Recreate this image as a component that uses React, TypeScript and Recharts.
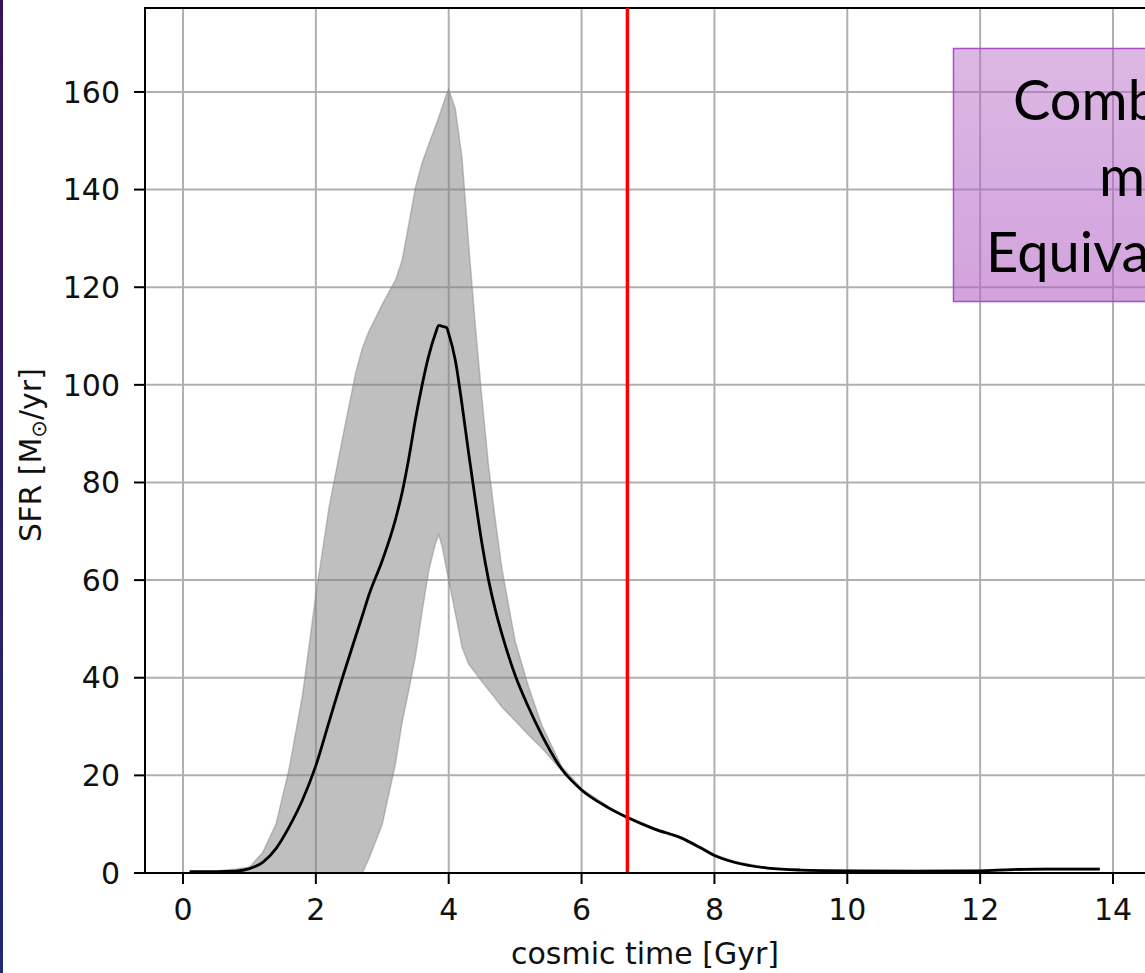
import React from 'react';
import {
  ComposedChart,
  Area,
  Line,
  XAxis,
  YAxis,
  CartesianGrid,
  ReferenceLine,
  ReferenceArea,
} from 'recharts';

// Cosmic time grid [Gyr]
const TIME = [
  0.1, 0.5, 0.8, 1.0, 1.2, 1.4, 1.6, 1.8, 2.0, 2.2, 2.4, 2.6, 2.7, 2.8, 3.0, 3.2, 3.3, 3.4, 3.5,
  3.6, 3.7, 3.8, 3.85, 3.9, 3.97, 4.0, 4.1, 4.2, 4.3, 4.4, 4.5, 4.6, 4.7, 4.8, 5.0, 5.2, 5.4, 5.7, 6.0,
  6.4, 6.7, 7.1, 7.5, 7.8, 8.0, 8.3, 8.8, 9.3, 10, 11, 12, 12.5, 13, 13.8,
];

// Median star formation rate [Msun/yr]
const SFR_MEDIAN = [
  0.3, 0.3, 0.4, 0.9, 2.2, 5.0, 9.5, 15, 22, 31, 40, 48.5, 52.7, 57, 64, 72.5, 78, 85, 93,
  100, 106, 110.5, 112.2, 112, 111.7, 110.5, 105, 96, 86, 76.5, 67.5, 60, 54, 49, 40.5, 34, 28.3, 21.3, 17,
  13.4, 11.3, 9.0, 7.2, 5.1, 3.6, 2.2, 1.0, 0.6, 0.45, 0.4, 0.45, 0.7, 0.8, 0.8,
];

// Lower edge of the spread
const SFR_LOW = [
  0.2, 0.2, 0.2, 0, 0, 0, 0, 0, 0, 0, 0, 0, 0, 3, 10, 22.5, 31, 37.5, 44.5,
  53.6, 62, 67.5, 69.3, 67, 62, 60, 53.2, 46.3, 42.8, 41, 39.2, 37.5, 35.8, 34, 31.2, 28.3, 25.6, 21, 16.8,
  13.2, 11.1, 8.8, 7.0, 4.9, 3.4, 2.0, 0.9, 0.5, 0.35, 0.3, 0.35, 0.6, 0.65, 0.65,
];

// Upper edge of the spread
const SFR_HIGH = [
  0.3, 0.4, 0.8, 1.2, 4.2, 10, 21.5, 36.5, 57, 75, 89, 102.5, 107.5, 111, 116.5, 121.5, 125.6, 133, 140.5,
  145.5, 149.3, 152.9, 154.8, 156.8, 159.7, 160.5, 156.5, 146.5, 128.8, 112.2, 97.2, 83.3, 72.5, 62.4, 47.5, 38.2, 30.3, 21.8, 17.3,
  13.6, 11.5, 9.2, 7.4, 5.3, 3.8, 2.4, 1.1, 0.7, 0.55, 0.5, 0.6, 0.85, 0.95, 0.95,
];

const X_TICKS = [0, 2, 4, 6, 8, 10, 12, 14];
const Y_TICKS = [0, 20, 40, 60, 80, 100, 120, 140, 160];
const X_DOMAIN: [number, number] = [-0.572, 14.557];
const Y_DOMAIN: [number, number] = [0, 177.2];
const T_MARK = 6.69;

const NOTE_LINES = ['Combined', 'models', 'Equivalent'];

const rows = TIME.map((t, i) => ({
  t,
  sfr: SFR_MEDIAN[i],
  band: [SFR_LOW[i], SFR_HIGH[i]],
}));

const FONT = '"DejaVu Sans", sans-serif';
const tickStyle = { fontFamily: FONT, fontSize: 30, fill: '#111' };

export default function App() {
  return (
    <div
      style={{
        position: 'absolute',
        left: 0,
        top: 0,
        width: 1145,
        height: 973,
        overflow: 'hidden',
        background: '#fff',
      }}
    >
      <ComposedChart
        width={1150}
        height={973}
        data={rows}
        margin={{ top: 8, right: 0, bottom: 0, left: 0 }}
      >
        <CartesianGrid stroke="#b0b0b0" strokeWidth={2} />
        <XAxis
          type="number"
          dataKey="t"
          domain={X_DOMAIN}
          ticks={X_TICKS}
          allowDataOverflow
          height={100}
          tickSize={11}
          tickMargin={15}
          tick={tickStyle}
          axisLine={{ stroke: '#000', strokeWidth: 2 }}
          tickLine={{ stroke: '#000', strokeWidth: 2 }}
          label={{
            content: () => (
              <text
                x={645}
                y={964}
                textAnchor="middle"
                fontFamily={FONT}
                fontSize={30}
                fill="#111"
              >
                cosmic time [Gyr]
              </text>
            ),
          }}
        />
        <YAxis
          type="number"
          domain={Y_DOMAIN}
          ticks={Y_TICKS}
          allowDataOverflow
          width={145}
          tickSize={11}
          tickMargin={14}
          tick={tickStyle}
          axisLine={{ stroke: '#000', strokeWidth: 2 }}
          tickLine={{ stroke: '#000', strokeWidth: 2 }}
          label={{
            content: () => (
              <text
                x={41}
                y={455}
                transform="rotate(-90, 41, 455)"
                textAnchor="middle"
                fontFamily={FONT}
                fontSize={30}
                fill="#111"
              >
                SFR [M
                <tspan fontSize={21} dy={5}>
                  ⊙
                </tspan>
                <tspan dy={-5}>/yr]</tspan>
              </text>
            ),
          }}
        />
        <Area
          dataKey="band"
          type="linear"
          fill="#808080"
          fillOpacity={0.5}
          stroke="#808080"
          strokeOpacity={0.45}
          strokeWidth={1.5}
          dot={false}
          activeDot={false}
          isAnimationActive={false}
        />
        <Line
          dataKey="sfr"
          type="monotone"
          stroke="#000"
          strokeWidth={2.8}
          dot={false}
          activeDot={false}
          isAnimationActive={false}
        />
        <ReferenceLine x={T_MARK} stroke="#ff0000" strokeWidth={3.5} ifOverflow="visible" />
        <ReferenceArea
          x1={X_DOMAIN[0]}
          x2={X_DOMAIN[1]}
          y1={Y_DOMAIN[0]}
          y2={Y_DOMAIN[1]}
          fill="none"
          stroke="#000"
          strokeWidth={2}
          ifOverflow="visible"
        />
      </ComposedChart>
      <svg
        width={1145}
        height={973}
        style={{ position: 'absolute', left: 0, top: 0, pointerEvents: 'none' }}
      >
        <defs>
          <linearGradient id="edgeStrip" x1="0" y1="0" x2="0" y2="1">
            <stop offset="0" stopColor="#3b1352" />
            <stop offset="1" stopColor="#1e2a72" />
          </linearGradient>
          <linearGradient id="noteFill" x1="0" y1="0" x2="0" y2="1">
            <stop offset="0" stopColor="#b260c4" stopOpacity={0.45} />
            <stop offset="1" stopColor="#b260c4" stopOpacity={0.58} />
          </linearGradient>
        </defs>
        <rect x={0} y={0} width={3} height={973} fill="url(#edgeStrip)" />
        <rect
          x={953.5}
          y={48.5}
          width={260}
          height={253}
          fill="url(#noteFill)"
          stroke="#a94ec6"
          strokeWidth={1.5}
        />
        <g fontFamily="Lato, 'Open Sans', sans-serif" fontSize={56} fill="#000">
          <text x={1013} y={120}>{NOTE_LINES[0]}</text>
          <text x={1099} y={196}>{NOTE_LINES[1]}</text>
          <text x={986} y={272}>{NOTE_LINES[2]}</text>
        </g>
      </svg>
    </div>
  );
}
